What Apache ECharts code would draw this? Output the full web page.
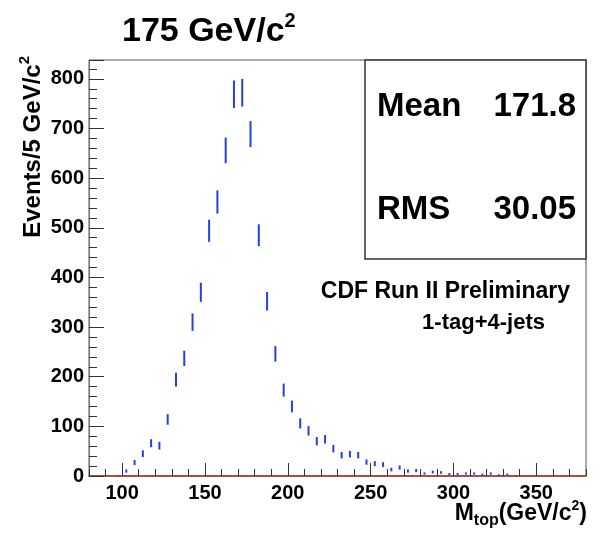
<!DOCTYPE html>
<html>
<head>
<meta charset="utf-8">
<script src="https://cdn.jsdelivr.net/npm/echarts@6/dist/echarts.min.js"></script>
<style>
  html, body { margin: 0; padding: 0; background: #fff; }
  #chart { width: 600px; height: 544px; }
</style>
</head>
<body>
<div id="chart"></div>
<script>
// Reconstructed top-quark mass, 1-tag + 4-jets sample, 5 GeV/c^2 bins
const binCenters = [
  97.5, 102.5, 107.5, 112.5, 117.5, 122.5, 127.5, 132.5, 137.5, 142.5,
  147.5, 152.5, 157.5, 162.5, 167.5, 172.5, 177.5, 182.5, 187.5, 192.5,
  197.5, 202.5, 207.5, 212.5, 217.5, 222.5, 227.5, 232.5, 237.5, 242.5,
  247.5, 252.5, 257.5, 262.5, 267.5, 272.5, 277.5, 282.5, 287.5, 292.5,
  297.5, 302.5, 307.5, 312.5, 317.5, 322.5, 327.5, 332.5, 337.5
];
const counts = [
  1, 10, 27, 45, 66, 61, 114, 194, 237, 310,
  370, 494, 552, 656, 769, 772, 689, 485, 352, 246,
  173, 140, 106, 91, 70, 74, 55, 42, 44, 42,
  28, 25, 23, 13, 17, 10, 11, 5, 8, 7,
  4, 4, 5, 5, 3, 5, 2, 3, 1
];
const xMajorTicks = [100, 150, 200, 250, 300, 350];
const xMinorTicks = [80, 90, 100, 110, 120, 130, 140, 150, 160, 170, 180, 190, 200,
  210, 220, 230, 240, 250, 260, 270, 280, 290, 300, 310, 320, 330, 340, 350, 360, 370, 380];
const yTickLabels = [0, 100, 200, 300, 400, 500, 600, 700, 800];
const statMean = '171.8';
const statRms = '30.05';
const massTitle = '175 GeV/c';

const FONT = '"Liberation Sans", Arial, Helvetica, sans-serif';
const ERR_COLOR = '#2342dc';

const chart = echarts.init(document.getElementById('chart'), null, { renderer: 'canvas' });

const histData = binCenters.map((x, i) => [x, counts[i]]);

const option = {
  animation: false,
  backgroundColor: '#fff',
  grid: {
    left: 89, top: 60, right: 14, bottom: 68,
    show: true, borderColor: '#555', borderWidth: 1, backgroundColor: 'transparent'
  },
  xAxis: [
    {
      type: 'value', min: 80, max: 380,
      axisLine: { show: true, onZero: false, lineStyle: { color: '#a83224', width: 1.5 } },
      axisTick: { show: true, inside: true, length: 13, customValues: xMajorTicks,
                  lineStyle: { color: '#333', width: 1 } },
      axisLabel: { customValues: xMajorTicks, margin: 7, color: '#000',
                   fontFamily: FONT, fontWeight: 'bold', fontSize: 20 },
      splitLine: { show: false }
    },
    {
      type: 'value', min: 80, max: 380, position: 'bottom',
      axisLine: { show: false },
      axisTick: { show: true, inside: true, length: 7, customValues: xMinorTicks,
                  lineStyle: { color: '#333', width: 1 } },
      axisLabel: { show: false },
      splitLine: { show: false }
    }
  ],
  yAxis: {
    type: 'value', min: 0, max: 838, interval: 100,
    axisLine: { show: true, lineStyle: { color: '#777', width: 1 } },
    axisTick: { show: true, inside: true, length: 15, lineStyle: { color: '#333', width: 1 } },
    minorTick: { show: true, splitNumber: 5, length: 8, lineStyle: { color: '#333', width: 1 } },
    axisLabel: { customValues: yTickLabels, margin: 5, color: '#000',
                 fontFamily: FONT, fontWeight: 'bold', fontSize: 20 },
    splitLine: { show: false }
  },
  series: [
    {
      // statistical error bars, +/- sqrt(N) around each bin content
      type: 'custom',
      xAxisIndex: 0,
      yAxisIndex: 0,
      clip: true,
      data: histData,
      encode: { x: 0, y: 1 },
      renderItem: function (params, api) {
        const x = api.value(0);
        const n = api.value(1);
        if (!(n > 0)) return null;
        const e = Math.sqrt(n);
        const lo = api.coord([x, n - e]);
        const hi = api.coord([x, n + e]);
        return {
          type: 'line',
          shape: { x1: lo[0], y1: lo[1], x2: hi[0], y2: hi[1] },
          style: { stroke: ERR_COLOR, lineWidth: 2 }
        };
      }
    }
  ],
  graphic: [
    {
      type: 'text', x: 122, y: 30, z: 10,
      style: {
        text: '{m|' + massTitle + '}{s|2}',
        verticalAlign: 'middle',
        rich: {
          m: { fontFamily: FONT, fontWeight: 'bold', fontSize: 34, lineHeight: 38, verticalAlign: 'bottom', fill: '#000' },
          s: { fontFamily: FONT, fontWeight: 'bold', fontSize: 20, lineHeight: 20, verticalAlign: 'top', fill: '#000' }
        }
      }
    },
    {
      type: 'text', x: 45, y: 56, rotation: Math.PI / 2, z: 10,
      style: {
        text: '{m|Events/5 GeV/c}{s|2}',
        align: 'right', verticalAlign: 'bottom',
        rich: {
          m: { fontFamily: FONT, fontWeight: 'bold', fontSize: 24, lineHeight: 28, verticalAlign: 'bottom', fill: '#000' },
          s: { fontFamily: FONT, fontWeight: 'bold', fontSize: 15, lineHeight: 15, verticalAlign: 'top', fill: '#000' }
        }
      }
    },
    {
      type: 'text', x: 587, y: 514, z: 10,
      style: {
        text: '{m|M}{b|top}{m|(GeV/c}{p|2}{m|)}',
        align: 'right', verticalAlign: 'middle',
        rich: {
          m: { fontFamily: FONT, fontWeight: 'bold', fontSize: 23, lineHeight: 30, verticalAlign: 'middle', fill: '#000' },
          b: { fontFamily: FONT, fontWeight: 'bold', fontSize: 16, lineHeight: 15, verticalAlign: 'bottom', fill: '#000' },
          p: { fontFamily: FONT, fontWeight: 'bold', fontSize: 14, lineHeight: 13, verticalAlign: 'top', fill: '#000' }
        }
      }
    },
    {
      type: 'rect', z: 10,
      shape: { x: 365, y: 60, width: 221, height: 199 },
      style: { fill: '#fff', stroke: '#333', lineWidth: 1.5 }
    },
    {
      type: 'text', x: 377, y: 107, z: 11,
      style: { text: 'Mean', font: 'bold 33px ' + FONT, fill: '#000', verticalAlign: 'middle' }
    },
    {
      type: 'text', x: 576, y: 107, z: 11,
      style: { text: statMean, font: 'bold 33px ' + FONT, fill: '#000', align: 'right', verticalAlign: 'middle' }
    },
    {
      type: 'text', x: 377, y: 210, z: 11,
      style: { text: 'RMS', font: 'bold 33px ' + FONT, fill: '#000', verticalAlign: 'middle' }
    },
    {
      type: 'text', x: 576, y: 210, z: 11,
      style: { text: statRms, font: 'bold 33px ' + FONT, fill: '#000', align: 'right', verticalAlign: 'middle' }
    },
    {
      type: 'text', x: 570, y: 292, z: 11,
      style: { text: 'CDF Run II Preliminary', font: 'bold 23px ' + FONT, fill: '#000', align: 'right', verticalAlign: 'middle' }
    },
    {
      type: 'text', x: 545, y: 323, z: 11,
      style: { text: '1-tag+4-jets', font: 'bold 22px ' + FONT, fill: '#000', align: 'right', verticalAlign: 'middle' }
    }
  ]
};

chart.setOption(option);
</script>
</body>
</html>
